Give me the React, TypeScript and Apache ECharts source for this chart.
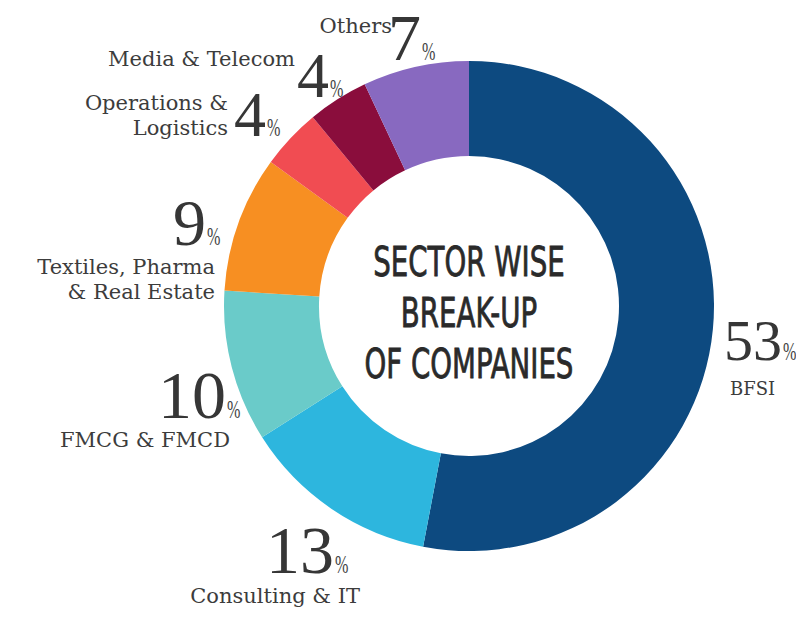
import React, { useEffect, useRef } from "react";
import * as echarts from "echarts";

const sectors = [
  "BFSI",
  "Consulting & IT",
  "FMCG & FMCD",
  "Textiles, Pharma & Real Estate",
  "Operations & Logistics",
  "Media & Telecom",
  "Others",
];
const shares = [53, 13, 10, 9, 4, 4, 7];
const colors = ["#0d4a80", "#2db6de", "#6acbc9", "#f78f22", "#f14c52", "#8a0d3c", "#8869c0"];
const nameLines = [
  ["BFSI"],
  ["Consulting & IT"],
  ["FMCG & FMCD"],
  ["Textiles, Pharma", "& Real Estate"],
  ["Operations &", "Logistics"],
  ["Media & Telecom"],
  ["Others"],
];
const centerTitle = ["SECTOR WISE", "BREAK-UP", "OF COMPANIES"];

// label layout: nx = boundary between number and %, nb = baseline of number; name anchor tx/tb (baseline)
const labelPos = [
  { nx: 782, nb: 360, nfs: 58, tx: 730, tb: 395, align: "left", tfs: 18 },
  { nx: 334, nb: 573, nfs: 68, tx: 360, tb: 603, align: "right", tfs: 21 },
  { nx: 226, nb: 418, nfs: 68, tx: 230, tb: 447, align: "right", tfs: 21 },
  { nx: 206, nb: 245, nfs: 66, tx: 215, tb: 274, align: "right", tfs: 21 },
  { nx: 266, nb: 136, nfs: 64, tx: 228, tb: 110, align: "right", tfs: 21 },
  { nx: 329, nb: 97, nfs: 64, tx: 295, tb: 66, align: "right", tfs: 21 },
  { nx: 421, nb: 60, nfs: 66, tx: 392, tb: 33, align: "right", tfs: 21 },
];

const serifNum = "'Liberation Serif', serif";
const serifName = "'DejaVu Serif', serif";
const NUM_CENTRAL = 0.3375; // central-to-alphabetic offset (em) for Liberation Serif
const NAME_CENTRAL = 0.346; // for DejaVu Serif

export default function App() {
  const ref = useRef<HTMLDivElement>(null);
  useEffect(() => {
    if (!ref.current) return;
    const chart = echarts.init(ref.current, undefined, { renderer: "svg" });
    const graphics: any[] = [];
    shares.forEach((v, i) => {
      const p = labelPos[i];
      graphics.push({
        type: "text",
        x: p.nx,
        y: p.nb - NUM_CENTRAL * p.nfs,
        style: {
          text: String(v),
          font: `${p.nfs}px ${serifNum}`,
          lineHeight: Math.round(p.nfs * 0.68),
          fill: "#363636",
          align: "right",
          verticalAlign: "middle",
        },
      });
      graphics.push({
        type: "text",
        x: p.nx + 1,
        y: p.nb - NUM_CENTRAL * 26,
        scaleX: 0.62,
        style: {
          text: "%",
          font: `26px ${serifNum}`,
          lineHeight: 18,
          fill: "#444",
          align: "left",
          verticalAlign: "middle",
        },
      });
      nameLines[i].forEach((line, j) => {
        graphics.push({
          type: "text",
          x: p.tx,
          y: p.tb + j * 25 - NAME_CENTRAL * p.tfs,
          style: {
            text: line,
            font: `${p.tfs}px ${serifName}`,
            lineHeight: Math.round(p.tfs * 0.9),
            fill: "#3c3c3c",
            align: p.align,
            verticalAlign: "middle",
          },
        });
      });
    });
    centerTitle.forEach((line, j) => {
      graphics.push({
        type: "text",
        x: 469,
        y: 262 + j * 51,
        scaleX: 0.75,
        style: {
          text: line,
          font: "41px 'Liberation Sans Narrow', 'DejaVu Sans Condensed', 'Roboto', sans-serif",
          fill: "#2a2a2a",
          stroke: "#2a2a2a",
          lineWidth: 0.8,
          align: "center",
          verticalAlign: "middle",
        },
      });
    });
    chart.setOption({
      animation: false,
      backgroundColor: "#ffffff",
      series: [
        {
          type: "pie",
          center: [469, 306],
          radius: [150, 245],
          startAngle: 90,
          clockwise: true,
          label: { show: false },
          labelLine: { show: false },
          itemStyle: { borderWidth: 0 },
          data: sectors.map((name, i) => ({
            name,
            value: shares[i],
            itemStyle: { color: colors[i] },
          })),
        },
      ],
      graphic: graphics,
    });
    return () => chart.dispose();
  }, []);
  return (
    <div
      ref={ref}
      style={{ position: "fixed", left: 0, top: 0, width: 796, height: 617 }}
    />
  );
}
